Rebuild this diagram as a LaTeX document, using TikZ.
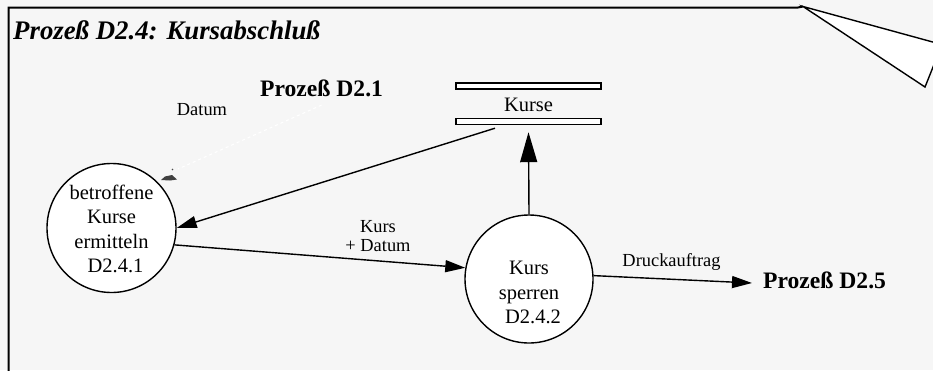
\documentclass[tikz,border=0pt]{standalone}
\usepackage{fontspec}
\setmainfont{Liberation Serif}
\usetikzlibrary{arrows.meta,calc}
\definecolor{sheet}{RGB}{246,246,246}
\tikzset{
  proc/.style={circle, draw, fill=white, line width=1.4pt, inner sep=0pt},
  proctext/.style={align=center, font=\fontsize{20.5}{24.5}\selectfont, inner sep=0pt, anchor=base},
  flowlabel/.style={font=\fontsize{18.4}{19.5}\selectfont, inner sep=0pt, anchor=base},
  extproc/.style={font=\fontsize{23.6}{28}\selectfont\bfseries, inner sep=0pt, anchor=base west},
  storebar/.style={draw, fill=white, line width=1.4pt, minimum width=145pt, minimum height=6pt, inner sep=0pt},
  flow/.style={line width=1.4pt, -{Triangle[length=20pt,width=12pt]}},
  bigflow/.style={line width=1.4pt, -{Triangle[length=30pt,width=17pt]}},
  frameline/.style={line width=2pt},
}
\begin{document}
\begin{tikzpicture}[x=1pt,y=-1pt]
  \clip (0,0) rectangle (933,370);
  \fill[sheet] (0,0) rectangle (933,370);

  % sheet frame with folded corner
  \draw[frameline] (8.5,371) -- (8.5,7.5) -- (798,7.5) -- (803,6.5);
  \filldraw[fill=white, line width=1.4pt] (940,44) -- (803,6.5) -- (925,87) -- (935,62);

  % title
  \node[font=\fontsize{26.8}{30}\selectfont\bfseries\itshape, inner sep=0pt, anchor=base west]
    (title) at (13,39.5) {Prozeß D2.4: Kursabschluß};

  % external processes
  \node[extproc] (d21) at (260,96.5) {Prozeß D2.1};
  \node[extproc] (d25) at (763,288) {Prozeß D2.5};

  % data store
  \node[storebar] (barT) at (528.5,86) {};
  \node[storebar] (barB) at (528.5,121.5) {};
  \node[proctext] (kurse) at (528.5,111.5) {Kurse};

  % processes (text anchored at the baseline of the last line)
  \node[proc, minimum size=129pt] (c1) at (111.5,228) {};
  \node[proctext] (c1t) at (111.5,272.5) {betroffene\\Kurse\\ermitteln\\\hspace*{8pt}D2.4.1};
  \node[proc, minimum size=128pt] (c2) at (529,279) {};
  \node[proctext] (c2t) at (529,323.5) {Kurs\\sperren\\\hspace*{8pt}D2.4.2};

  % data flows
  \draw[flow] ($(barB.south)+(-33.5,3)$) -- (c1.east);
  \draw[bigflow] (c2.north) -- ($(barB.south)+(0,7)$);
  \draw[flow] (c1.-15) -- (c2.170);
  \draw[flow] (c2.3) -- ($(d25.base west)+(-11,-5)$);

  % faint dashed flow from D2.1
  \coordinate (dtip) at (178,169);
  \draw[white, dashed, line width=1pt] ($(d21.south)+(0,8)$) -- (dtip);
  \fill[black!75] (161,180) -- (165,176.5) -- (172,175) -- (177,179.5) -- (170,180.5) -- cycle;
  \fill[black!70] (172.5,169.5) circle (0.8);

  % flow labels
  \node[flowlabel] (lDatum) at (202,115) {Datum};
  \node[flowlabel] (lKurs) at (378,232.3) {Kurs};
  \node[flowlabel] (lKursDatum) at (378,251.7) {+ Datum};
  \node[flowlabel] (lDruck) at (671.5,266) {Druckauftrag};
\end{tikzpicture}
\end{document}
